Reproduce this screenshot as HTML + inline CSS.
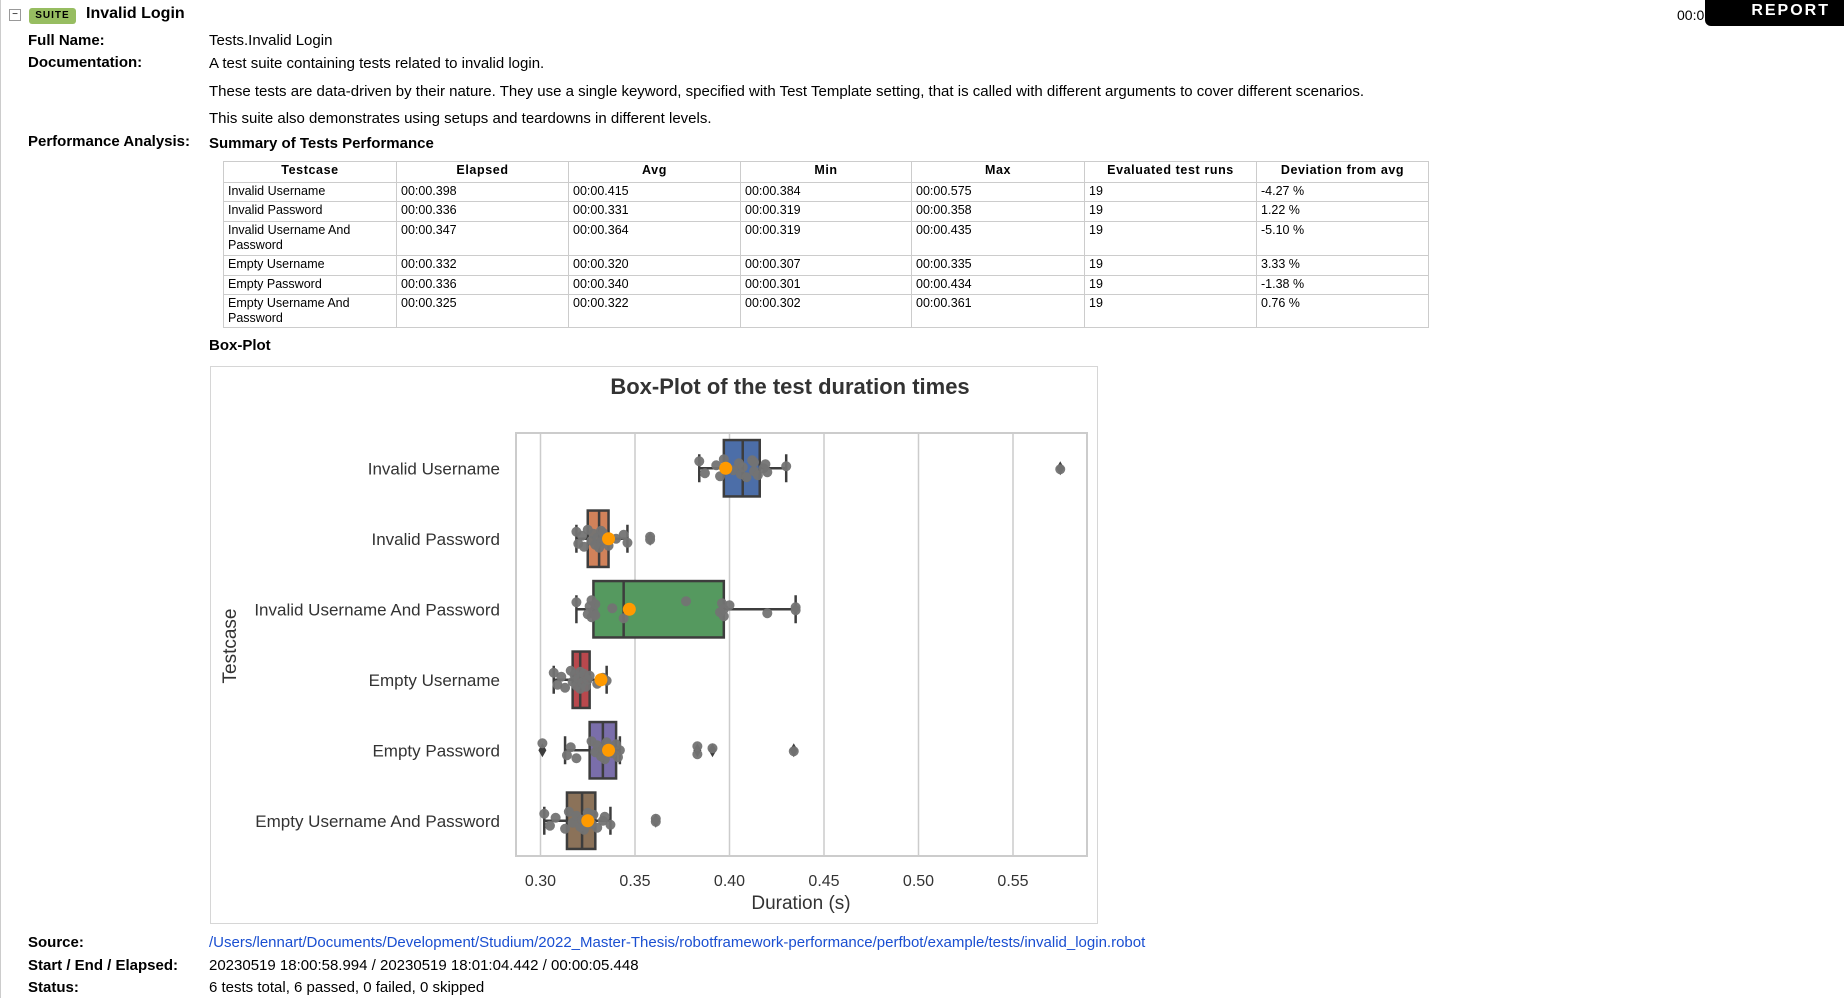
<!DOCTYPE html>
<html><head><meta charset="utf-8">
<style>
html,body{margin:0;padding:0;background:#fff;}
body{width:1844px;height:998px;position:relative;overflow:hidden;font-family:"Liberation Sans",Arial,sans-serif;color:#000;}
.a{position:absolute;white-space:nowrap;}
.lbl{font-weight:bold;font-size:15px;left:28px;}
.val{font-size:15px;left:209px;}
table{border-collapse:collapse;position:absolute;left:223px;top:161px;width:1205px;font-size:12.5px;table-layout:fixed;}
td,th{border:1px solid #ccc;padding:1px 4px;vertical-align:top;line-height:15px;text-align:left;}
th{text-align:center;font-weight:bold;letter-spacing:0.6px;height:18px;}
</style></head><body>
<div class="a" style="left:0;top:0;width:1px;height:998px;background:#ccc"></div>
<div class="a" style="left:9px;top:9px;width:10px;height:10px;border:1px solid #999;font-size:10px;line-height:9px;text-align:center">−</div>
<div class="a" style="left:29px;top:8px;width:47px;height:16px;background:#97bd61;border-radius:3px;font-size:10px;font-weight:bold;text-align:center;line-height:16px;letter-spacing:1px">SUITE</div>
<div class="a" style="left:86px;top:5px;font-size:16px;font-weight:bold">Invalid Login</div>
<div class="a" style="left:1677px;top:7px;font-size:14px">00:0</div>
<div class="a" style="left:1705px;top:0;width:139px;height:26px;background:#000;color:#fff;font-weight:bold;font-size:16px;letter-spacing:2px;text-align:right;padding-right:0;line-height:22px;border-bottom-left-radius:6px"><span style="margin-right:14px">REPORT</span></div>

<div class="a lbl" style="top:32px">Full Name:</div>
<div class="a val" style="top:32px">Tests.Invalid Login</div>
<div class="a lbl" style="top:54px">Documentation:</div>
<div class="a val" style="top:55px">A test suite containing tests related to invalid login.</div>
<div class="a val" style="top:83px">These tests are data-driven by their nature. They use a single keyword, specified with Test Template setting, that is called with different arguments to cover different scenarios.</div>
<div class="a val" style="top:110px">This suite also demonstrates using setups and teardowns in different levels.</div>
<div class="a lbl" style="top:133px">Performance Analysis:</div>
<div class="a val" style="top:135px;font-weight:bold">Summary of Tests Performance</div>

<table>
<colgroup><col style="width:173px"><col style="width:172px"><col style="width:172px"><col style="width:171px"><col style="width:173px"><col style="width:172px"><col style="width:172px"></colgroup>
<tr><th>Testcase</th><th>Elapsed</th><th>Avg</th><th>Min</th><th>Max</th><th>Evaluated test runs</th><th>Deviation from avg</th></tr>
<tr style="height:19px"><td>Invalid Username</td><td>00:00.398</td><td>00:00.415</td><td>00:00.384</td><td>00:00.575</td><td>19</td><td>-4.27 %</td></tr>
<tr style="height:20px"><td>Invalid Password</td><td>00:00.336</td><td>00:00.331</td><td>00:00.319</td><td>00:00.358</td><td>19</td><td>1.22 %</td></tr>
<tr style="height:34px"><td>Invalid Username And Password</td><td>00:00.347</td><td>00:00.364</td><td>00:00.319</td><td>00:00.435</td><td>19</td><td>-5.10 %</td></tr>
<tr style="height:20px"><td>Empty Username</td><td>00:00.332</td><td>00:00.320</td><td>00:00.307</td><td>00:00.335</td><td>19</td><td>3.33 %</td></tr>
<tr style="height:19px"><td>Empty Password</td><td>00:00.336</td><td>00:00.340</td><td>00:00.301</td><td>00:00.434</td><td>19</td><td>-1.38 %</td></tr>
<tr style="height:33px"><td>Empty Username And Password</td><td>00:00.325</td><td>00:00.322</td><td>00:00.302</td><td>00:00.361</td><td>19</td><td>0.76 %</td></tr>
</table>

<div class="a val" style="top:337px;font-weight:bold">Box-Plot</div>

<svg class="a" style="left:0;top:0" width="1844" height="998" id="chart">
<rect x="210.5" y="366.5" width="887" height="557" fill="#fff" stroke="#d6d6d6" stroke-width="1"/>
<text x="790" y="394" text-anchor="middle" font-family="Liberation Sans, Arial, sans-serif" font-weight="bold" font-size="22" fill="#333">Box-Plot of the test duration times</text>
<text transform="translate(236,646) rotate(-90)" text-anchor="middle" font-family="Liberation Sans, Arial, sans-serif" font-size="19" fill="#333">Testcase</text>
<text x="801" y="909" text-anchor="middle" font-family="Liberation Sans, Arial, sans-serif" font-size="19" fill="#333">Duration (s)</text>
<g id="grid"></g><g id="marks"></g><g id="labels"></g>
<rect x="516" y="433" width="571" height="423" fill="none" stroke="#cccccc" stroke-width="2"/>
</svg>

<div class="a lbl" style="top:934px">Source:</div>
<div class="a val" style="top:934px;color:#1a4fd1">/Users/lennart/Documents/Development/Studium/2022_Master-Thesis/robotframework-performance/perfbot/example/tests/invalid_login.robot</div>
<div class="a lbl" style="top:957px">Start / End / Elapsed:</div>
<div class="a val" style="top:957px">20230519 18:00:58.994 / 20230519 18:01:04.442 / 00:00:05.448</div>
<div class="a lbl" style="top:979px">Status:</div>
<div class="a val" style="top:979px">6 tests total, 6 passed, 0 failed, 0 skipped</div>

<script>
const categories = ["Invalid Username","Invalid Password","Invalid Username And Password","Empty Username","Empty Password","Empty Username And Password"];
const q1 = [0.397,0.325,0.328,0.317,0.326,0.314];
const medians = [0.407,0.331,0.344,0.321,0.333,0.322];
const q3 = [0.416,0.336,0.397,0.326,0.340,0.329];
const whiskerLow = [0.384,0.319,0.319,0.307,0.313,0.302];
const whiskerHigh = [0.430,0.346,0.435,0.335,0.342,0.337];
const outliers = [[0.575],[0.358],[],[],[0.301,0.383,0.391,0.434],[0.361]];
const means = [0.398,0.336,0.347,0.332,0.336,0.325];
const runs = [
 [0.384,0.387,0.393,0.395,0.397,0.402,0.405,0.406,0.407,0.409,0.412,0.413,0.413,0.415,0.418,0.419,0.420,0.430,0.575],
 [0.319,0.320,0.322,0.323,0.325,0.327,0.328,0.329,0.330,0.331,0.332,0.332,0.333,0.336,0.340,0.344,0.346,0.358,0.358],
 [0.319,0.325,0.326,0.327,0.327,0.328,0.329,0.329,0.338,0.344,0.377,0.395,0.396,0.397,0.397,0.400,0.420,0.435,0.435],
 [0.307,0.309,0.311,0.313,0.316,0.317,0.318,0.319,0.320,0.321,0.321,0.322,0.323,0.324,0.325,0.326,0.330,0.333,0.335],
 [0.301,0.314,0.316,0.319,0.327,0.329,0.330,0.332,0.333,0.334,0.335,0.338,0.340,0.341,0.342,0.383,0.383,0.391,0.434],
 [0.302,0.305,0.308,0.313,0.315,0.317,0.319,0.321,0.322,0.323,0.325,0.327,0.328,0.330,0.333,0.334,0.337,0.361,0.361]
];
const xTicks = [0.30,0.35,0.40,0.45,0.50,0.55];
const xTickLabels = ["0.30","0.35","0.40","0.45","0.50","0.55"];
const colors = ["#4c6ea8","#d1825a","#55995f","#b9484d","#7a6eaa","#8b7259"];

const NS = "http://www.w3.org/2000/svg";
const plotTop = 433, plotH = 423, band = plotH / categories.length;
function xs(v){ return 540.5 + (v - 0.30) * 1890; }
function yc(i){ return plotTop + band * (i + 0.5); }
function mk(tag, attrs, parent){ const e = document.createElementNS(NS, tag); for (const k in attrs) e.setAttribute(k, attrs[k]); parent.appendChild(e); return e; }

const grid = document.getElementById('grid'), marks = document.getElementById('marks'), labels = document.getElementById('labels');
xTicks.forEach((t, i) => {
  const g = mk('line', {x1: xs(t), x2: xs(t), y1: plotTop, y2: plotTop + plotH, stroke: '#cccccc', 'stroke-width': 1.5}, grid);
  
  
  const tx = mk('text', {x: xs(t), y: 886, 'text-anchor': 'middle', 'font-family': 'Liberation Sans, Arial, sans-serif', 'font-size': 16, fill: '#333'}, labels);
  tx.textContent = xTickLabels[i];
  
  
});
const jit = [-7,5,-3,8,-9,2,-5,6,-1,9,-8,3,-6,7,0,-4,4,-2,1];
categories.forEach((c, i) => {
  const y = yc(i), bh = band * 0.8;
  const lab = mk('text', {x: 500, y: y + 6, 'text-anchor': 'end', 'font-family': 'Liberation Sans, Arial, sans-serif', 'font-size': 17, fill: '#333'}, labels);
  lab.textContent = c;
  
  
  const wl = mk('path', {d: `M${xs(whiskerLow[i])},${y}H${xs(q1[i])}M${xs(q3[i])},${y}H${xs(whiskerHigh[i])}M${xs(whiskerLow[i])},${y-14}V${y+14}M${xs(whiskerHigh[i])},${y-14}V${y+14}`, stroke: '#3d3d3d', 'stroke-width': 2.5, fill: 'none'}, marks);
  
  
  const box = mk('rect', {x: xs(q1[i]), y: y - bh/2, width: xs(q3[i]) - xs(q1[i]), height: bh, fill: colors[i], stroke: '#3d3d3d', 'stroke-width': 2.5}, marks);
  
  
  const med = mk('line', {x1: xs(medians[i]), x2: xs(medians[i]), y1: y - bh/2, y2: y + bh/2, stroke: '#3d3d3d', 'stroke-width': 2.5}, marks);
  
  
  outliers[i].forEach(o => {
    const p = mk('path', {d: `M${xs(o)},${y-7}L${xs(o)+4},${y}L${xs(o)},${y+7}L${xs(o)-4},${y}Z`, fill: '#3d3d3d'}, marks);
    
    
  });
  runs[i].forEach((v, k) => {
    const d = mk('circle', {cx: xs(v), cy: y + jit[k % jit.length], r: 5, fill: '#737373', opacity: 0.95}, marks);
    
    
  });
  const m = mk('circle', {cx: xs(means[i]), cy: y, r: 6.5, fill: '#ff9a00'}, marks);
  
  
});
</script>
</body></html>
